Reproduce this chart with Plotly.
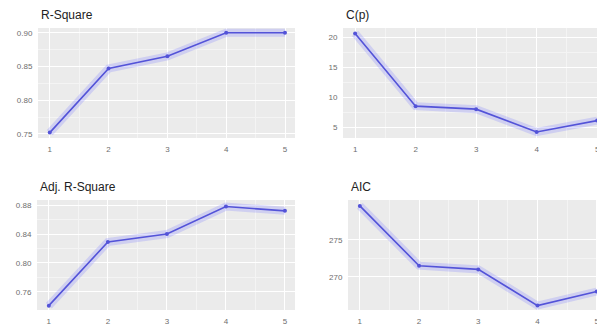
import plotly.graph_objects as go

steps = [1, 2, 3, 4, 5]
rsquare = [0.752, 0.847, 0.865, 0.900, 0.900]
cp = [20.6, 8.5, 8.0, 4.2, 6.1]
adj_rsquare = [0.741, 0.829, 0.840, 0.878, 0.872]
aic = [279.6, 271.5, 271.0, 266.1, 268.0]

titles = ["R-Square", "C(p)", "Adj. R-Square", "AIC"]
series = [rsquare, cp, adj_rsquare, aic]
yticks = [
    ([0.75, 0.80, 0.85, 0.90], ["0.75", "0.80", "0.85", "0.90"]),
    ([5, 10, 15, 20], ["5", "10", "15", "20"]),
    ([0.76, 0.80, 0.84, 0.88], ["0.76", "0.80", "0.84", "0.88"]),
    ([270, 275], ["270", "275"]),
]
yranges = [[0.744, 0.907], [3.2, 21.5], [0.735, 0.887], [265.5, 280.4]]

# page body has an 8px default margin: figure placed at (8, 8) in the window
OFF = 8
W, H = 605 - OFF, 331 - OFF
# plot areas in window pixels: (left, right, top, bottom)
boxes = [(38, 295, 28, 138), (343, 605, 28, 138), (37, 295, 200, 310), (348, 605, 200, 310)]
title_x = [39, 344, 38, 349]
xranges = [[0.80, 5.17], [0.80, 5.13], [0.80, 5.17], [0.80, 5.14]]

fig = go.Figure()
LINE = "#5353d8"
HALO = "rgba(125,125,255,0.25)"
TICKFONT = dict(size=8, color="#6e6e6e", family="Liberation Sans")

for i, (t, s) in enumerate(zip(titles, series)):
    n = i + 1
    xa = "x" if n == 1 else f"x{n}"
    ya = "y" if n == 1 else f"y{n}"
    fig.add_trace(go.Scatter(x=steps, y=s, mode="lines", xaxis=xa, yaxis=ya,
                             line=dict(color=HALO, width=8), hoverinfo="skip", showlegend=False))
    fig.add_trace(go.Scatter(x=steps, y=s, mode="lines+markers", xaxis=xa, yaxis=ya,
                             line=dict(color=LINE, width=1.6),
                             marker=dict(color=LINE, size=4),
                             showlegend=False))
    l, r, tp, b = boxes[i]
    l, r, tp, b = l - OFF, r - OFF, tp - OFF, b - OFF
    dx = [l / W, min(r / W, 1.0)]
    dy = [1 - b / H, 1 - tp / H]
    xkey = "xaxis" if n == 1 else f"xaxis{n}"
    ykey = "yaxis" if n == 1 else f"yaxis{n}"
    fig.update_layout(**{
        xkey: dict(domain=dx, anchor=ya, range=xranges[i], tickvals=steps,
                   ticktext=[str(v) for v in steps], showgrid=True, gridcolor="white",
                   gridwidth=1.2, zeroline=False, showline=False,
                   ticks="outside", ticklen=3, tickcolor="rgba(0,0,0,0)",
                   tickfont=TICKFONT,
                   minor=dict(showgrid=True, gridcolor="#f4f4f4", gridwidth=0.6, dtick=0.5),
                   fixedrange=True),
        ykey: dict(domain=dy, anchor=xa, range=yranges[i], tickvals=yticks[i][0],
                   ticktext=yticks[i][1], showgrid=True, gridcolor="white",
                   gridwidth=1.2, zeroline=False, showline=False,
                   ticks="outside", ticklen=3, tickcolor="rgba(0,0,0,0)",
                   tickfont=TICKFONT,
                   minor=dict(showgrid=True, gridcolor="#f4f4f4", gridwidth=0.6,
                              tickvals=[(a + c) / 2 for a, c in zip(yticks[i][0][:-1], yticks[i][0][1:])]),
                   fixedrange=True),
    })
    fig.add_annotation(text=t, xref="paper", yref="paper", x=(title_x[i] - OFF) / W,
                       y=1 - (tp - 4) / H,
                       xanchor="left", yanchor="bottom", showarrow=False,
                       font=dict(size=12, color="#222222", family="Liberation Sans"))

fig.update_layout(width=W, height=H, margin=dict(l=0, r=0, t=0, b=0),
                  paper_bgcolor="white", plot_bgcolor="#ebebeb")
fig.write_html("out.html")
